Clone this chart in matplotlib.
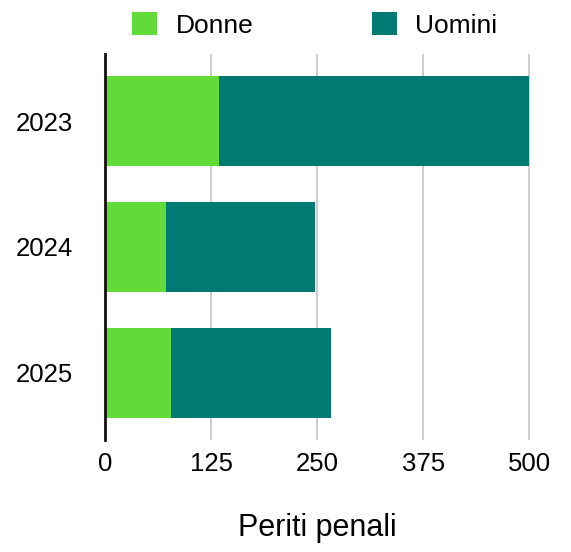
import matplotlib.pyplot as plt
import numpy as np

# data
years = ["2023", "2024", "2025"]
donne = [134, 72, 78]
uomini = [366, 176, 188]
x_ticks = [0, 125, 250, 375, 500]

GREEN = "#62da38"
TEAL = "#007a73"

plt.rcParams["font.family"] = ["Liberation Sans", "DejaVu Sans"]

fig = plt.figure(figsize=(5.71, 5.52), dpi=100)
ax = fig.add_axes([105 / 571, 112 / 552, 425 / 571, 386 / 552])

pos = np.arange(len(years))
ax.barh(pos, donne, height=0.72, color=GREEN, label="Donne", zorder=2)
ax.barh(pos, uomini, left=donne, height=0.72, color=TEAL, label="Uomini", zorder=2)

ax.set_xlim(0, 501)
ax.set_ylim(2.532, -0.532)
ax.set_yticks(pos)
ax.set_yticklabels(years)
ax.set_xticks(x_ticks)
ax.set_xticklabels([str(t) for t in x_ticks])
ax.tick_params(axis="x", length=0, pad=8.5, labelsize=18.5)
ax.tick_params(axis="y", length=0, pad=23, labelsize=18.5)

# light vertical grid, dark y axis line
ax.grid(axis="x", color="#c8c8c8", linewidth=1.3, zorder=0)
for s in ["top", "right", "bottom"]:
    ax.spines[s].set_visible(False)
ax.spines["left"].set_linewidth(2)
ax.spines["left"].set_color("#111111")
ax.spines["left"].set_zorder(3)

ax.set_xlabel("Periti penali", fontsize=22, labelpad=0)
ax.xaxis.set_label_coords(0.5, -(536 - 440) / 386, transform=ax.transAxes)
ax.xaxis.label.set_va("baseline")

ax.legend(
    loc="center",
    bbox_to_anchor=(315 / 571, 1 - 25 / 552),
    bbox_transform=fig.transFigure,
    ncol=2,
    frameon=False,
    fontsize=19,
    handlelength=0.95,
    handleheight=0.95,
    handletextpad=0.7,
    columnspacing=4.48,
    borderaxespad=0,
    borderpad=0,
)

fig.savefig("out.png", dpi=100)
